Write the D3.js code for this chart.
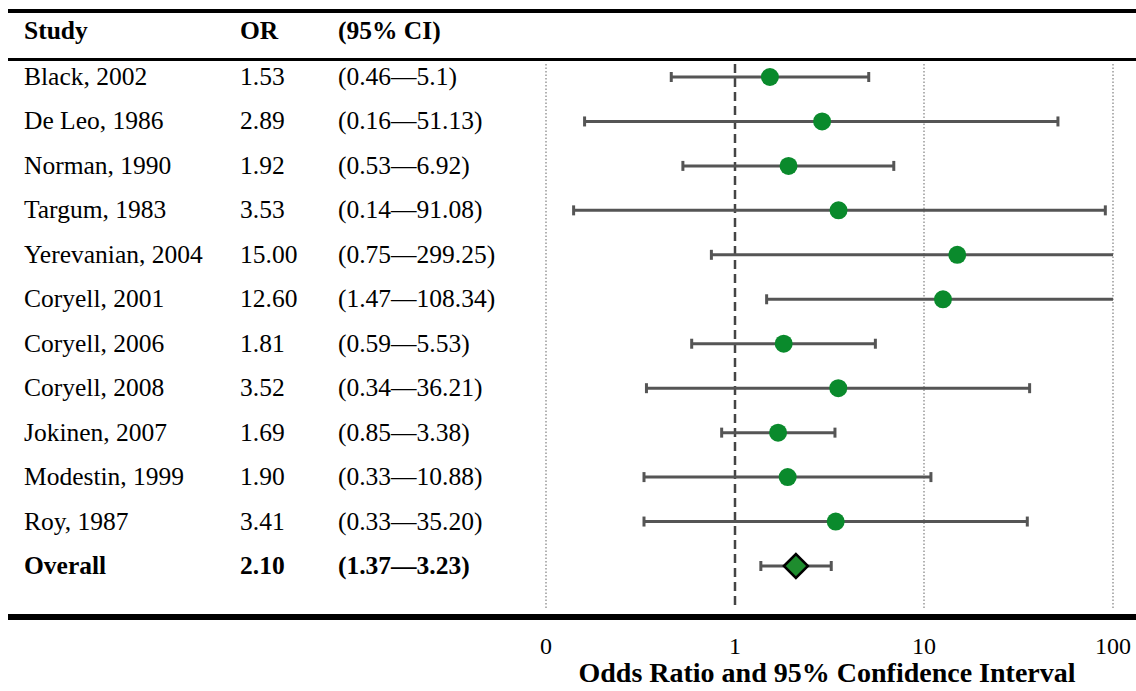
<!DOCTYPE html>
<html><head><meta charset="utf-8">
<script src="https://cdn.jsdelivr.net/npm/d3@7"></script>
<style>body{margin:0;background:#fff}svg{display:block}text{font-family:"Liberation Serif","Times New Roman",serif}</style>
</head><body><svg id="c" width="1136" height="691"></svg>
<script>
const studies = ["Black, 2002","De Leo, 1986","Norman, 1990","Targum, 1983","Yerevanian, 2004","Coryell, 2001","Coryell, 2006","Coryell, 2008","Jokinen, 2007","Modestin, 1999","Roy, 1987"];
const orValues = [1.53,2.89,1.92,3.53,15.00,12.60,1.81,3.52,1.69,1.90,3.41];
const lowerCI = [0.46,0.16,0.53,0.14,0.75,1.47,0.59,0.34,0.85,0.33,0.33];
const upperCI = [5.1,51.13,6.92,91.08,299.25,108.34,5.53,36.21,3.38,10.88,35.20];
const ciText = ["(0.46\u20145.1)","(0.16\u201451.13)","(0.53\u20146.92)","(0.14\u201491.08)","(0.75\u2014299.25)","(1.47\u2014108.34)","(0.59\u20145.53)","(0.34\u201436.21)","(0.85\u20143.38)","(0.33\u201410.88)","(0.33\u201435.20)"];
const overall = {label:"Overall", or:2.10, lo:1.37, hi:3.23, text:"(1.37\u20143.23)"};
const tickValues = [0.1,1,10,100];
const tickLabels = ["0","1","10","100"];
const axisTitle = "Odds Ratio and 95% Confidence Interval";

const svg = d3.select("#c");
const x = d3.scaleLog().domain([0.1,100]).range([546,1113]).clamp(true);
const rows = studies.map((s,i)=>({label:s, or:orValues[i], lo:lowerCI[i], hi:upperCI[i], text:ciText[i], bold:false}));
rows.push({label:overall.label, or:overall.or, lo:overall.lo, hi:overall.hi, text:overall.text, bold:true});
const y = d3.scalePoint().domain(d3.range(rows.length)).range([77,566]);

// rules
svg.append("rect").attr("x",8).attr("y",9).attr("width",1128).attr("height",4).attr("fill","#000");
svg.append("rect").attr("x",8).attr("y",58).attr("width",1128).attr("height",3).attr("fill","#000");
svg.append("rect").attr("x",8).attr("y",614).attr("width",1128).attr("height",6).attr("fill","#000");

// headers
const hdr = [["Study",24],["OR",240],["(95% CI)",338]];
svg.selectAll("text.h").data(hdr).join("text").attr("class","h")
  .attr("x",d=>d[1]).attr("y",39).attr("font-size",25.5).attr("font-weight","bold").text(d=>d[0]);

// gridlines
svg.selectAll("line.g").data(tickValues.filter(v=>v!==1)).join("line").attr("class","g")
  .attr("x1",d=>x(d)).attr("x2",d=>x(d)).attr("y1",64).attr("y2",610)
  .attr("stroke","#999").attr("stroke-width",1.5).attr("stroke-dasharray","1.5,2");
svg.append("line").attr("x1",x(1)).attr("x2",x(1)).attr("y1",64).attr("y2",608)
  .attr("stroke","#444").attr("stroke-width",2.5).attr("stroke-dasharray","9,5");

// table text
const g = svg.append("g");
rows.forEach((r,i)=>{
  const fw = r.bold ? "bold" : "normal";
  [[r.label,24],[r.or.toFixed(2),240],[r.text,338]].forEach(([t,xx])=>{
    g.append("text").attr("x",xx).attr("y",y(i)+8).attr("font-size",25.5).attr("font-weight",fw).text(t);
  });
});

// error bars
const eb = svg.append("g").attr("stroke","#555").attr("stroke-width",3);
rows.forEach((r,i)=>{
  const yy = y(i);
  eb.append("line").attr("x1",x(r.lo)).attr("x2",x(r.hi)).attr("y1",yy).attr("y2",yy);
  eb.append("line").attr("x1",x(r.lo)).attr("x2",x(r.lo)).attr("y1",yy-5).attr("y2",yy+5);
  if (r.hi <= 100) eb.append("line").attr("x1",x(r.hi)).attr("x2",x(r.hi)).attr("y1",yy-5).attr("y2",yy+5);
});

// points
svg.selectAll("circle.p").data(rows.filter(r=>!r.bold)).join("circle").attr("class","p")
  .attr("cx",d=>x(d.or)).attr("cy",(d,i)=>y(i)).attr("r",9).attr("fill","#0a8a2c");
const ov = rows[rows.length-1], oy = y(rows.length-1), ox = x(ov.or);
svg.append("path").attr("d",`M${ox-12},${oy}L${ox},${oy-12}L${ox+12},${oy}L${ox},${oy+12}Z`)
  .attr("fill","#1e8c2e").attr("stroke","#000").attr("stroke-width",2.5);

// axis labels
svg.selectAll("text.t").data(tickValues).join("text").attr("class","t")
  .attr("x",d=>x(d)).attr("y",654).attr("text-anchor","middle").attr("font-size",24)
  .text((d,i)=>tickLabels[i]);
svg.append("text").attr("x",827).attr("y",682).attr("text-anchor","middle").attr("font-size",28)
  .attr("font-weight","bold").text(axisTitle);
</script></body></html>
